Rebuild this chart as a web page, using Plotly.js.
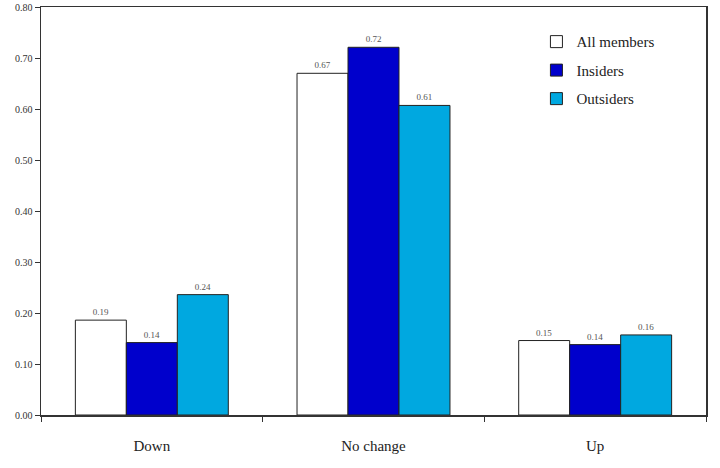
<!DOCTYPE html>
<html>
<head>
<meta charset="utf-8">
<script src="https://cdn.plot.ly/plotly-3.0.1.min.js"></script>
<style>html,body{margin:0;padding:0;background:#fff;}#chart{width:720px;height:468px;}</style>
</head>
<body>
<div id="chart"></div>
<script>
var categories = ['Down', 'No change', 'Up'];
var allMembers = [0.186, 0.670, 0.146];
var insiders = [0.142, 0.721, 0.138];
var outsiders = [0.236, 0.607, 0.157];
var seriesNames = ['All members', 'Insiders', 'Outsiders'];
var yTicks = [0, 0.1, 0.2, 0.3, 0.4, 0.5, 0.6, 0.7, 0.8];

var colors = ['#ffffff', '#0000cc', '#00a8e0'];
var font = 'Liberation Serif, Times New Roman, serif';

function mk(vals, i) {
  return {
    type: 'bar', x: categories, y: vals, name: seriesNames[i],
    legendgroup: 'g' + i,
    marker: {color: colors[i], line: {color: '#222', width: 1}},
    texttemplate: '%{y:.2f}', textposition: 'outside',
    textfont: {family: font, size: 9, color: '#555'},
    cliponaxis: false, hoverinfo: 'none'
  };
}
var data = [mk(allMembers, 0), mk(insiders, 1), mk(outsiders, 2)];

var layout = {
  width: 720, height: 468,
  margin: {l: 41, r: 14, t: 7, b: 53},
  paper_bgcolor: '#fff', plot_bgcolor: '#fff',
  barmode: 'group', bargap: 0.31, bargroupgap: 0,
  font: {family: font, color: '#333'},
  showlegend: true,
  legend: {x: 0.745, y: 0.955, xanchor: 'left', yanchor: 'top',
           font: {family: font, size: 15, color: '#222'},
           bgcolor: 'rgba(0,0,0,0)', tracegroupgap: 6, itemwidth: 30},
  xaxis: {
    tickson: 'boundaries', ticks: 'outside', ticklen: 5, tickcolor: '#333',
    showline: true, linecolor: '#333', linewidth: 1.5, mirror: true,
    tickfont: {family: font, size: 15, color: '#222'}, ticklabelstandoff: 16,
    showgrid: false, fixedrange: true
  },
  yaxis: {
    range: [0, 0.8], tickvals: yTicks, tickformat: '.2f',
    ticks: 'outside', ticklen: 5, tickcolor: '#333',
    showline: true, linecolor: '#333', linewidth: 1.5, mirror: true,
    showgrid: false, zeroline: false,
    tickfont: {family: font, size: 10, color: '#333'}, fixedrange: true
  }
};
Plotly.newPlot('chart', data, layout, {displayModeBar: false, staticPlot: true});
</script>
</body>
</html>
